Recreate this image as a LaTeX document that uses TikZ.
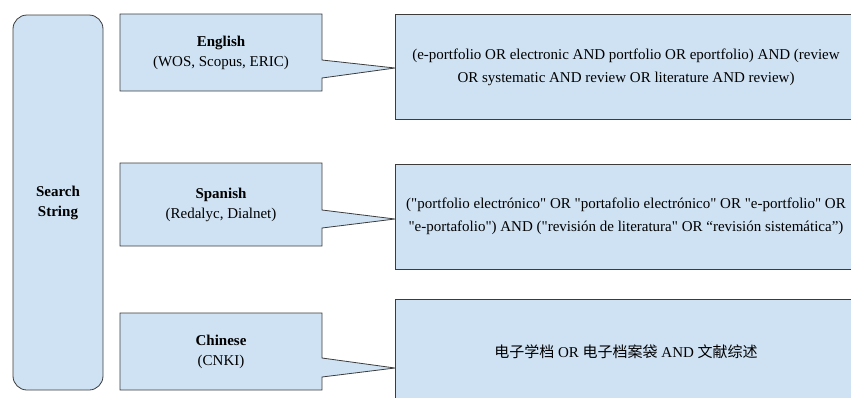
\documentclass[tikz,border=0pt]{standalone}
\usepackage{fontspec}
\setmainfont{Liberation Serif}
\newfontfamily\rawserif{Liberation Serif}
\newfontfamily\cjk{Noto Sans CJK SC}
\newcommand{\sq}{{\rawserif\char"22}}
\usetikzlibrary{backgrounds}

\definecolor{boxblue}{HTML}{CFE2F3}
\definecolor{boxline}{HTML}{3C3C3C}

\tikzset{
    outline/.style={draw=boxline, line width=0.8pt, fill=boxblue},
    langbox/.style={rectangle, minimum width=202pt, inner sep=0pt, outer sep=0pt,
        align=center, font=\fontsize{15}{20}\selectfont},
    querybox/.style={outline, rectangle, minimum width=462pt, minimum height=105pt,
        inner sep=0pt, align=center, font=\fontsize{15}{23}\selectfont},
}

\begin{document}
\begin{tikzpicture}[x=1pt, y=-1pt]
    \useasboundingbox (0,0) rectangle (851,397);

    % search string box
    \node[outline, rounded corners=14pt, minimum width=90pt, minimum height=375pt,
        align=center, font=\fontsize{15}{20}\selectfont\bfseries] (search) at (58,202.5) {Search\\String};

    % query boxes
    \node[querybox] (enq) at (626,67)
        {(e-portfolio OR electronic AND portfolio OR eportfolio) AND (review\\OR systematic AND review OR literature AND review)};
    \node[querybox] (esq) at (626,216.5)
        {(\sq portfolio electrónico\sq{} OR \sq portafolio electrónico\sq{} OR \sq e-portfolio\sq{} OR\\\sq e-portafolio\sq) AND (\sq revisión de literatura\sq{} OR “revisión sistemática”)};
    \node[querybox] (zhq) at (626,351.5)
        {{\cjk 电子学档} OR {\cjk 电子档案袋} AND {\cjk 文献综述}};

    % language boxes
    \node[langbox, minimum height=77pt] (en) at (221,52.5) {\textbf{English}\\(WOS, Scopus, ERIC)};
    \node[langbox, minimum height=83pt] (es) at (221,204.5) {\textbf{Spanish}\\(Redalyc, Dialnet)};
    \node[langbox, minimum height=77pt] (zh) at (221,351.5) {\textbf{Chinese}\\(CNKI)};

    % callout tips
    \coordinate (entip) at (395,68);
    \coordinate (estip) at (395,219);
    \coordinate (zhtip) at (395,368);

    % callout outlines
    \begin{scope}[on background layer]
        \draw[outline] (en.north west) -- (en.north east) -- ([yshift=-46pt]en.north east) -- (entip)
            -- ([yshift=-64pt]en.north east) -- (en.south east) -- (en.south west) -- cycle;
        \draw[outline] (es.north west) -- (es.north east) -- ([yshift=-47pt]es.north east) -- (estip)
            -- ([yshift=-65pt]es.north east) -- (es.south east) -- (es.south west) -- cycle;
        \draw[outline] (zh.north west) -- (zh.north east) -- ([yshift=-45pt]zh.north east) -- (zhtip)
            -- ([yshift=-64pt]zh.north east) -- (zh.south east) -- (zh.south west) -- cycle;
    \end{scope}
\end{tikzpicture}
\end{document}
